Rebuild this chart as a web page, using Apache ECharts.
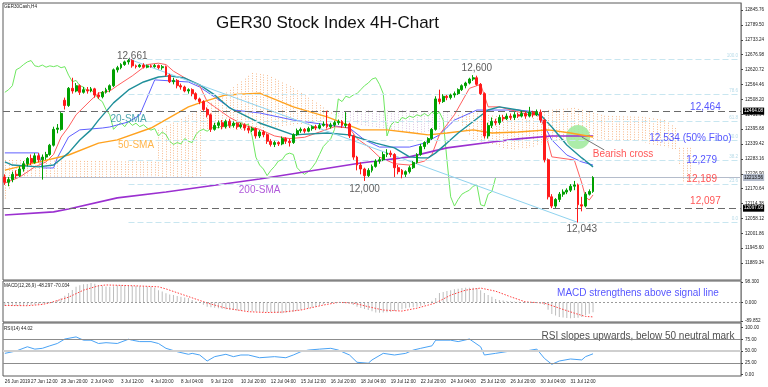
<!DOCTYPE html>
<html><head><meta charset="utf-8">
<script src="https://cdn.jsdelivr.net/npm/echarts@6/dist/echarts.min.js"></script>
<style>html,body{margin:0;padding:0;background:#fff}#c{width:768px;height:387px}</style>
</head><body><div id="c"></div>
<script>
// ---------- DATA ----------
const xTickIdx = [0,7,15,23,31,39,47,55,63,71,79,87,95,103,111,119,127,135,143,151];
const xTickLabels = ['26 Jun 2019','27 Jun 12:00','28 Jun 20:00','2 Jul 04:00','3 Jul 12:00','4 Jul 20:00','8 Jul 04:00','9 Jul 12:00','10 Jul 20:00','12 Jul 04:00','15 Jul 12:00','16 Jul 20:00','18 Jul 04:00','19 Jul 12:00','22 Jul 20:00','24 Jul 04:00','25 Jul 12:00','26 Jul 20:00','30 Jul 04:00','31 Jul 12:00'];
const priceTicks = [11889.34,11945.60,12001.86,12058.12,12114.38,12170.64,12226.90,12283.16,12339.42,12395.68,12451.94,12508.20,12564.46,12620.72,12676.98,12733.24,12789.50,12845.76];
const macdTicks = [-89.852,0,98.3];
const rsiTicks = [0,25,50,75,100];

// [open, close, low, high]
const candles = [
[12215,12195,12185,12225],[12195,12205,12180,12215],[12205,12225,12195,12235],[12225,12220,12210,12240],[12220,12245,12215,12255],
[12245,12265,12235,12275],[12265,12285,12255,12290],[12285,12270,12260,12300],[12270,12295,12265,12305],[12295,12280,12270,12305],
[12280,12290,12205,12300],[12290,12300,12280,12310],[12300,12335,12295,12340],[12335,12395,12330,12405],[12395,12400,12380,12415],
[12395,12455,12390,12460],[12505,12485,12470,12515],[12485,12550,12480,12555],[12550,12540,12530,12590],[12540,12560,12535,12570],
[12560,12535,12525,12565],[12535,12545,12530,12555],[12545,12540,12530,12555],[12540,12548,12535,12555],[12548,12525,12515,12552],
[12525,12518,12510,12535],[12518,12535,12512,12540],[12535,12545,12530,12552],[12545,12560,12535,12565],[12560,12620,12555,12625],
[12620,12628,12610,12635],[12628,12640,12622,12645],[12640,12650,12635,12655],[12650,12655,12640,12661],[12655,12635,12628,12660],
[12635,12632,12625,12640],[12632,12638,12628,12642],[12638,12630,12625,12645],[12630,12635,12626,12640],[12635,12632,12628,12640],
[12632,12636,12628,12642],[12636,12628,12622,12640],[12628,12632,12620,12638],[12632,12600,12595,12636],[12600,12575,12570,12605],
[12575,12580,12565,12590],[12580,12560,12550,12585],[12560,12555,12545,12568],[12555,12540,12535,12560],[12540,12545,12530,12550],
[12545,12530,12520,12550],[12530,12510,12505,12535],[12510,12500,12490,12515],[12500,12470,12465,12505],[12470,12450,12440,12478],
[12450,12395,12385,12455],[12395,12410,12390,12420],[12410,12420,12400,12428],[12420,12405,12395,12430],[12405,12425,12398,12432],
[12425,12410,12400,12435],[12410,12418,12402,12425],[12418,12405,12395,12422],[12405,12412,12398,12420],[12412,12400,12390,12418],
[12400,12392,12380,12408],[12392,12398,12385,12405],[12398,12370,12360,12402],[12370,12385,12362,12392],[12385,12375,12365,12392],
[12375,12350,12340,12380],[12350,12338,12330,12358],[12338,12345,12328,12352],[12345,12340,12332,12350],[12340,12360,12335,12368],
[12360,12350,12340,12365],[12350,12345,12330,12360],[12345,12375,12340,12380],[12375,12390,12370,12398],[12390,12395,12382,12402],
[12395,12388,12380,12400],[12388,12398,12384,12405],[12398,12405,12390,12410],[12405,12400,12392,12412],[12400,12410,12395,12418],
[12410,12415,12405,12425],[12415,12405,12398,12465],[12405,12412,12398,12420],[12412,12420,12405,12428],[12420,12425,12412,12432],
[12425,12410,12400,12430],[12410,12415,12400,12460],[12415,12370,12362,12420],[12370,12290,12280,12375],[12290,12260,12240,12295],
[12260,12245,12225,12270],[12245,12220,12200,12250],[12220,12240,12215,12248],[12240,12255,12232,12262],[12255,12275,12250,12282],
[12275,12280,12265,12290],[12280,12300,12275,12310],[12300,12305,12290,12320],[12305,12300,12290,12315],[12300,12250,12215,12305],
[12250,12235,12225,12260],[12240,12225,12210,12245],[12225,12235,12215,12240],[12235,12250,12228,12258],[12250,12270,12245,12275],
[12270,12300,12265,12305],[12300,12330,12295,12340],[12330,12345,12320,12350],[12345,12360,12338,12365],[12360,12395,12355,12400],
[12395,12510,12390,12520],[12510,12500,12490,12545],[12500,12520,12495,12528],[12520,12515,12505,12525],[12515,12525,12508,12530],
[12525,12530,12515,12538],[12530,12545,12525,12550],[12545,12560,12540,12565],[12560,12570,12550,12575],[12570,12585,12565,12590],
[12585,12590,12578,12600],[12590,12565,12560,12598],[12565,12530,12525,12570],[12530,12370,12360,12535],[12370,12410,12360,12420],
[12410,12425,12400,12440],[12425,12420,12410,12435],[12420,12440,12412,12450],[12440,12435,12425,12450],[12435,12445,12430,12455],
[12445,12440,12430,12455],[12440,12450,12430,12460],[12450,12445,12438,12458],[12445,12455,12440,12465],[12455,12445,12435,12462],
[12445,12460,12440,12480],[12460,12450,12440,12465],[12450,12460,12445,12470],[12460,12430,12420,12470],[12430,12280,12270,12435],
[12280,12140,12130,12285],[12140,12105,12097,12150],[12105,12130,12098,12135],[12130,12150,12120,12158],[12150,12158,12140,12168],
[12158,12165,12150,12172],[12165,12180,12158,12188],[12180,12185,12165,12200],[12185,12110,12043,12190],[12110,12105,12085,12140],
[12105,12150,12100,12158],[12150,12160,12145,12168],[12160,12213,12155,12218]
];

// indicator readings [bar index, value]
const sma20 = [[0,12272],[2,12260],[9,12253],[13,12260],[17,12306],[20,12355],[23,12393],[25,12430],[29,12495],[33,12544],[37,12574],[41,12593],[44,12597],[48,12589],[52,12563],[56,12525],[60,12476],[68,12419],[77,12374],[86,12381],[92,12374],[99,12343],[104,12325],[108,12291],[111,12287],[113,12287],[115,12306],[118,12343],[121,12381],[129,12468],[132,12480],[137,12468],[143,12449],[146,12404],[150,12336],[154,12287],[157,12253]];
const sma50 = [[0,12241],[8,12268],[17,12298],[25,12343],[30,12355],[39,12400],[49,12480],[52,12495],[59,12525],[68,12532],[77,12480],[86,12442],[95,12393],[102,12393],[109,12381],[113,12374],[118,12381],[125,12393],[130,12381],[137,12385],[145,12393],[151,12381],[157,12366]];
const sma200 = [[0,12071],[13,12083],[17,12094],[30,12136],[43,12158],[68,12207],[95,12268],[108,12291],[118,12325],[130,12347],[137,12359],[146,12370],[157,12370]];
const kijun = [[0,12306],[9,12306],[10,12249],[13,12249],[14,12287],[17,12366],[20,12393],[26,12400],[28,12404],[33,12423],[36,12449],[40,12582],[49,12574],[52,12555],[56,12517],[61,12468],[68,12457],[77,12430],[86,12412],[92,12400],[96,12355],[100,12328],[108,12328],[112,12343],[116,12374],[120,12430],[126,12468],[130,12468],[137,12468],[142,12461],[146,12355],[150,12298],[154,12272],[157,12260]];
const tenkan = [[0,12192],[4,12215],[8,12253],[11,12272],[13,12300],[15,12366],[17,12404],[19,12450],[23,12506],[25,12532],[28,12540],[30,12560],[34,12597],[38,12640],[41,12645],[43,12640],[45,12615],[48,12590],[52,12560],[54,12500],[56,12480],[60,12440],[64,12410],[68,12395],[72,12370],[76,12360],[80,12365],[84,12385],[88,12405],[92,12400],[94,12360],[97,12330],[100,12290],[104,12265],[108,12260],[112,12275],[114,12300],[116,12375],[120,12450],[124,12550],[127,12565],[129,12480],[132,12480],[136,12465],[140,12450],[143,12450],[146,12291],[152,12279],[154,12192],[155,12139],[156,12128],[157,12147]];
const cloudIdx = [0,2,40,41,52,53,60,66,70,77,84,88,95,110,118,121,125,135,140,145,152,160,170,176,179,180,181,183];
const spanA = [12279,12279,12272,12393,12468,12476,12544,12608,12600,12551,12487,12449,12412,12381,12400,12449,12457,12438,12430,12468,12476,12446,12442,12430,12400,12325,12325,12325];
const spanB = [12128,12211,12211,12211,12211,12393,12393,12393,12400,12408,12423,12461,12468,12468,12461,12423,12355,12317,12325,12347,12355,12355,12347,12328,12317,12260,12196,12196];
const macdHist = [
-18,-18,-17,-17,-16,-15,-14,-12,-10,-8,
-6,-3,0,4,11,20,32,45,60,75,
82,87,89,93,90,84,80,77,75,78,
82,84,83,82,80,79,78,77,76,75,
70,59,52,44,38,35,31,27,24,21,
12,4,-3,-12,-21,-24,-26,-28,-31,-33,
-35,-37,-39,-40,-41,-42,-43,-44,-45,-46,
-47,-48,-50,-51,-52,-50,-48,-45,-40,-35,
-31,-28,-25,-21,-15,-9,-3,0,1,2,
2,1,-5,-13,-21,-27,-32,-37,-43,-49,
-50,-49,-48,-46,-42,-38,-33,-28,-25,-23,
-21,-16,-10,-3,8,21,45,50,55,59,
63,66,69,70,70,70,69,58,45,35,
27,16,12,9,7,6,4,3,1,0,
0,0,-1,-5,-13,-35,-56,-63,-70,-73,
-75,-77,-76,-74,-70,-62,-55,-48];
const macdSignal = [[0,-15],[6,-16],[10,-10],[12,-2],[17,25],[21,59],[25,80],[27,84],[31,82],[36,79],[41,75],[43,65],[49,28],[54,-3],[59,-28],[65,-45],[70,-49],[74,-47],[79,-37],[85,-13],[89,0],[93,-3],[97,-21],[101,-37],[106,-42],[110,-28],[115,-3],[119,35],[123,59],[127,69],[131,54],[135,27],[139,2],[144,-3],[148,-28],[152,-52],[155,-68],[157,-70]];
const rsi = [[0,45],[3,50],[6,59],[8,54],[10,55.7],[12,61],[14,66],[16,75.5],[19,80],[21,73],[23,73],[25,66],[27,67.7],[30,66],[33,75],[34,73],[36,70],[39,70],[41,66],[43,55.7],[46,48.5],[49,43],[50,45],[52,41.5],[54,28.7],[56,38],[59,43],[61,38],[63,41.5],[65,41.5],[68,35.7],[72,38],[75,35.7],[77,41.5],[79,48.5],[81,52],[84,54],[87,55.7],[89,52],[92,41.5],[94,26],[97,24],[98,31],[101,45],[104,41.5],[107,45],[109,52],[111,55.7],[114,61],[115,73],[119,73],[121,70],[124,75.5],[127,59],[128,41.5],[131,45],[135,50],[139,50],[142,54],[144,34.5],[146,21.7],[148,28.7],[151,33],[154,31],[155,38],[157,44.02]];

const levels = {res:12464, sup:12097, last:12213};
const fibo = [[100,12661],[78.6,12528.7],[61.8,12424.9],[50,12352],[38.2,12279.1],[23.6,12188.8],[0,12043]];
const fiboStart = 33;
const trend = [[33,12661],[153,12043]];
const crossAt = [153.3,12366];
const crossPointer = [[154.3,12366],[159.7,12317]];

// annotation texts anchored at [bar index, price]
const priceNotes = [
 {t:'12,661', at:[34.2,12672], c:'#333'},
 {t:'12,600', at:[126.4,12627], c:'#333'},
 {t:'12,000', at:[96.4,12170], c:'#333'},
 {t:'12,043', at:[153.7,12018], c:'#333'},
 {t:'12,464', at:[186.6,12478], c:'#2a2aff'},
 {t:'12,534 (50% Fibo)', at:[182.5,12361], c:'#2a2aff'},
 {t:'12,279', at:[185.7,12279], c:'#2a2aff'},
 {t:'12,189', at:[185.7,12207], c:'#ff2a2a'},
 {t:'12,097', at:[186.6,12122], c:'#ff2a2a'},
 {t:'Bearish cross', at:[164.5,12301], c:'#ff2a2a'},
 {t:'20-SMA', at:[32.7,12433], c:'#1f8f9a'},
 {t:'50-SMA', at:[34.6,12336], c:'#ffa21f'},
 {t:'200-SMA', at:[67.7,12166], c:'#9b30d0'}
];
const macdNote = {t:'MACD strengthens above signal line', at:[169.4,44.5]};
const rsiNote = {t:'RSI slopes upwards, below 50 neutral mark', at:[168.5,82]};

// ---------- CHART ----------
const N = 197;
const cats = Array.from({length:N},(_,i)=>String(i));
const tickSet = new Map(xTickIdx.map((v,k)=>[v,xTickLabels[k]]));
const FONT = 'Liberation Sans';
const chikou = candles.map((c,i)=>[i-26,c[1]]).filter(d=>d[0]>=0);

// span value at a bar, read between the sampled cloud points (for drawing the hatch)
function spanAt(arr,b){
  for(let k=0;k<cloudIdx.length-1;k++){
    if(b>=cloudIdx[k]&&b<=cloudIdx[k+1]){const t=(b-cloudIdx[k])/(cloudIdx[k+1]-cloudIdx[k]);return arr[k]+t*(arr[k+1]-arr[k]);}
  }
  return null;
}

const chart = echarts.init(document.getElementById('c'));
const gridBorder = {show:true,borderColor:'#5a5a5a',borderWidth:1,backgroundColor:'#fff'};
const xBase = {type:'category',data:cats,boundaryGap:true,axisLine:{show:false},axisTick:{show:false},axisLabel:{show:false},splitLine:{show:false}};
function line(data,color,width,extra){return Object.assign({type:'line',data,symbol:'none',lineStyle:{color,width},silent:true,animation:false},extra||{});}

const option = {
 animation:false,
 textStyle:{fontFamily:FONT},
 title:{text:'GER30 Stock Index 4H-Chart',left:211,top:10,textStyle:{fontFamily:FONT,fontSize:17,fontWeight:'normal',color:'#111'}},
 graphic:[
  {type:'text',left:4,top:4,style:{text:'GER30Cash,H4',font:'4.6px Liberation Sans',fill:'#222'}},
  {type:'text',left:4,top:283,style:{text:'MACD(12,26,9) -48.297 -70.034',font:'4.6px Liberation Sans',fill:'#222'}},
  {type:'text',left:4,top:326,style:{text:'RSI(14) 44.02',font:'4.6px Liberation Sans',fill:'#222'}}
 ],
 grid:[
  Object.assign({left:3,top:3,width:738,height:277},gridBorder),
  Object.assign({left:3,top:281,width:738,height:41},gridBorder),
  Object.assign({left:3,top:323,width:738,height:53},gridBorder)
 ],
 xAxis:[
  Object.assign({gridIndex:0},xBase),
  Object.assign({gridIndex:1},xBase),
  Object.assign({gridIndex:2},xBase,{axisLabel:{show:true,interval:(i)=>tickSet.has(i),formatter:(v,i)=>tickSet.get(i)||'',align:'left',fontSize:4.6,color:'#222',margin:3,fontFamily:FONT}})
 ],
 yAxis:[
  {gridIndex:0,type:'value',position:'right',min:11825.5,max:12872.6,splitLine:{show:false},
   axisLine:{show:true,lineStyle:{color:'#8a8a8a',width:1}},
   axisTick:{show:true,length:2,customValues:priceTicks,lineStyle:{color:'#444'}},
   axisLabel:{customValues:priceTicks,formatter:v=>v.toFixed(2),fontSize:4.6,color:'#222',margin:4,fontFamily:FONT}},
  {gridIndex:1,type:'value',position:'right',min:-94.7,max:103.1,splitLine:{show:false},
   axisLine:{show:true,lineStyle:{color:'#8a8a8a'}},
   axisTick:{show:true,length:2,customValues:macdTicks,lineStyle:{color:'#444'}},
   axisLabel:{customValues:macdTicks,formatter:v=>v.toFixed(3),fontSize:4.6,color:'#222',margin:4,fontFamily:FONT}},
  {gridIndex:2,type:'value',position:'right',min:-3.2,max:109.6,splitLine:{show:false},
   axisLine:{show:true,lineStyle:{color:'#8a8a8a'}},
   axisTick:{show:true,length:2,customValues:rsiTicks,lineStyle:{color:'#444'}},
   axisLabel:{customValues:rsiTicks,formatter:v=>v.toFixed(2),fontSize:4.6,color:'#222',margin:4,fontFamily:FONT}}
 ],
 series:[
  // Ichimoku cloud: vertical dotted hatch per bar
  {type:'custom',xAxisIndex:0,yAxisIndex:0,silent:true,z:1,data:[[0,12400]],clip:true,
   renderItem:(params,api)=>{
     const ch=[];
     const last=cloudIdx[cloudIdx.length-1];
     for(let b=0;b<=last;b++){
       const a=spanAt(spanA,b), s=spanAt(spanB,b);
       if(a==null||s==null) continue;
       const p1=api.coord([b,a]), p2=api.coord([b,s]);
       const x=Math.round(p1[0])+0.5;
       ch.push({type:'line',shape:{x1:x,y1:p1[1],x2:x,y2:p2[1]},style:{stroke:a>=s?'#f7bc90':'#dcc6e2',lineWidth:1,lineDash:[1,1.5]}});
     }
     return {type:'group',children:ch};
   }},
  // horizontal levels & fibo & trend
  {type:'line',xAxisIndex:0,yAxisIndex:0,data:[],silent:true,z:2,
   markLine:{silent:true,symbol:'none',animation:false,
    data:[
     {yAxis:levels.last,lineStyle:{color:'#b4bccb',width:1,type:'solid'},label:{show:true,position:'end',formatter:'12213.56',color:'#000',backgroundColor:'#b4bccb',fontSize:4.6,padding:[1,1],distance:2}},
     {yAxis:levels.res,lineStyle:{color:'#6a6a6a',width:1,type:[7,4]},label:{show:true,position:'end',formatter:'12464.08',color:'#fff',backgroundColor:'#000',fontSize:4.6,padding:[1,1],distance:2}},
     {yAxis:levels.sup,lineStyle:{color:'#6a6a6a',width:1,type:[7,4]},label:{show:true,position:'end',formatter:'12097.08',color:'#fff',backgroundColor:'#000',fontSize:4.6,padding:[1,1],distance:2}},
     ...fibo.map(f=>[{coord:[fiboStart,f[1]],lineStyle:{color:'#c8e6f0',width:1,type:[6,3]},label:{show:true,position:'insideEndTop',formatter:f[0].toFixed(1),color:'#b7dbe8',fontSize:4.6,distance:1}},{coord:[N-1.4,f[1]]}]),
     [{coord:trend[0],lineStyle:{color:'#8fd3ef',width:1,type:'solid'},label:{show:false}},{coord:trend[1]}],
     [{coord:crossPointer[0],lineStyle:{color:'#777',width:1,type:'solid'},label:{show:false}},{coord:crossPointer[1]}]
    ]}},
  // bearish cross circle
  {type:'scatter',xAxisIndex:0,yAxisIndex:0,data:[crossAt],symbolSize:24,itemStyle:{color:'#a3eaa0',opacity:0.9},silent:true,z:2},
  line(chikou,'#6ee860',1,{z:3}),
  line(kijun,'#5f5fff',1,{z:3}),
  line(tenkan,'#ff5f5f',1,{z:3}),
  line(sma200,'#9b30d0',1.6,{z:4}),
  line(sma50,'#ffa21f',1.4,{z:4}),
  line(sma20,'#1f8f9a',1.4,{z:4}),
  {type:'candlestick',xAxisIndex:0,yAxisIndex:0,data:candles,barWidth:2.4,silent:true,z:5,
   itemStyle:{color:'#00a000',color0:'#ff1a1a',borderColor:'#00a000',borderColor0:'#ff1a1a',borderWidth:1}},
  // price notes
  {type:'scatter',xAxisIndex:0,yAxisIndex:0,symbolSize:0,silent:true,z:6,
   data:priceNotes.map(n=>({value:n.at,label:{show:true,position:'inside',formatter:n.t,color:n.c,fontSize:10,fontFamily:FONT}}))},
  // MACD
  {type:'bar',xAxisIndex:1,yAxisIndex:1,data:macdHist,barWidth:1,itemStyle:{color:'#bdbdbd'},silent:true,
   markLine:{silent:true,symbol:'none',data:[{yAxis:0,lineStyle:{color:'#9a9a9a',type:[2,2],width:1},label:{show:false}}]}},
  line(macdSignal,'#ff4040',1,{xAxisIndex:1,yAxisIndex:1,lineStyle:{color:'#ff4040',width:1,type:[1.5,1.5]}}),
  {type:'scatter',xAxisIndex:1,yAxisIndex:1,symbolSize:0,silent:true,
   data:[{value:macdNote.at,label:{show:true,position:'inside',formatter:macdNote.t,color:'#2a2aff',fontSize:10,fontFamily:FONT}}]},
  // RSI
  line(rsi,'#4aa3f5',1,{xAxisIndex:2,yAxisIndex:2,z:3,
   markLine:{silent:true,symbol:'none',data:[
     {yAxis:75,lineStyle:{color:'#8c8c8c',width:1,type:'solid'},label:{show:false}},
     {yAxis:50,lineStyle:{color:'#cfcfcf',width:2,type:'solid'},label:{show:false}},
     {yAxis:25,lineStyle:{color:'#8c8c8c',width:1,type:'solid'},label:{show:false}}]}}),
  {type:'scatter',xAxisIndex:2,yAxisIndex:2,symbolSize:0,silent:true,
   data:[{value:rsiNote.at,label:{show:true,position:'inside',formatter:rsiNote.t,color:'#222',fontSize:10,fontFamily:FONT}}]}
 ]
};
chart.setOption(option);
</script>
</body></html>
